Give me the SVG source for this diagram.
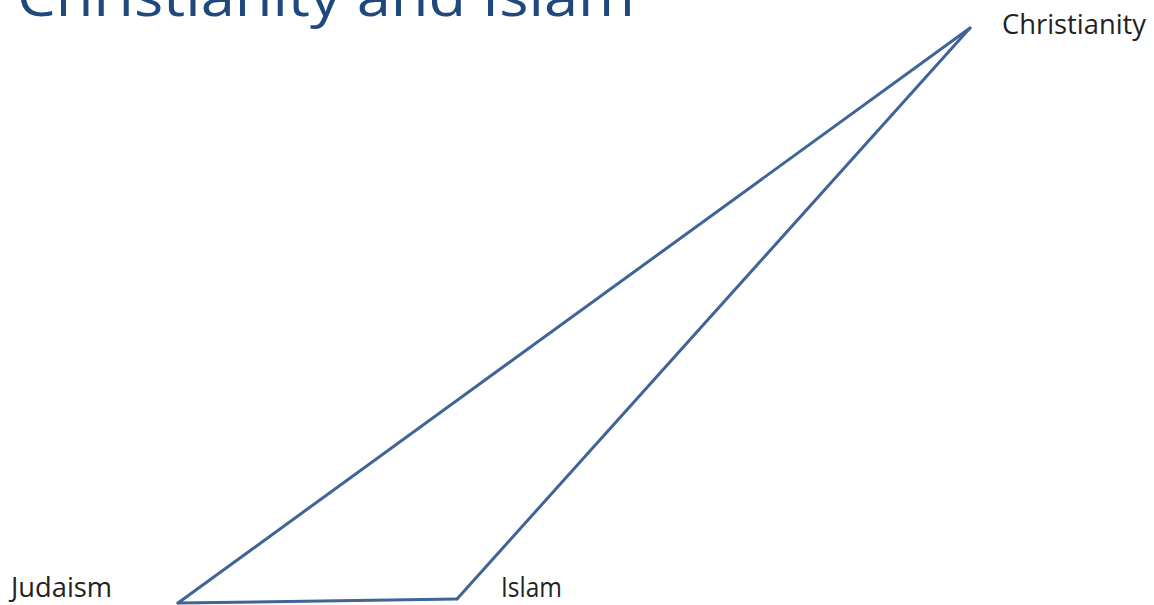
<svg xmlns="http://www.w3.org/2000/svg" width="1154" height="605" viewBox="0 0 1154 605">
<style>
.lbl{font-family:"Open Sans","Liberation Sans",sans-serif;font-size:27px;fill:#222}
.edge{stroke:#3F6497;stroke-width:3;fill:none;stroke-linecap:round;stroke-linejoin:round}
</style>
<rect width="1154" height="605" fill="#fff"/>
<text x="17" y="16" font-family="Open Sans, Liberation Sans, sans-serif" font-size="54" fill="#1F497D" textLength="618" lengthAdjust="spacingAndGlyphs">Christianity and Islam</text>
<g id="connectors">
<line class="edge" x1="970" y1="28" x2="178" y2="603"/>
<line class="edge" x1="970" y1="28" x2="457" y2="599"/>
<line class="edge" x1="178" y1="603" x2="457" y2="599"/>
</g>
<g id="christianity"><text class="lbl" x="1002" y="34" textLength="144" lengthAdjust="spacingAndGlyphs">Christianity</text></g>
<g id="judaism"><text class="lbl" x="11" y="597" textLength="101" lengthAdjust="spacingAndGlyphs">Judaism</text></g>
<g id="islam"><text class="lbl" x="501" y="597" textLength="61" lengthAdjust="spacingAndGlyphs">Islam</text></g>
</svg>
